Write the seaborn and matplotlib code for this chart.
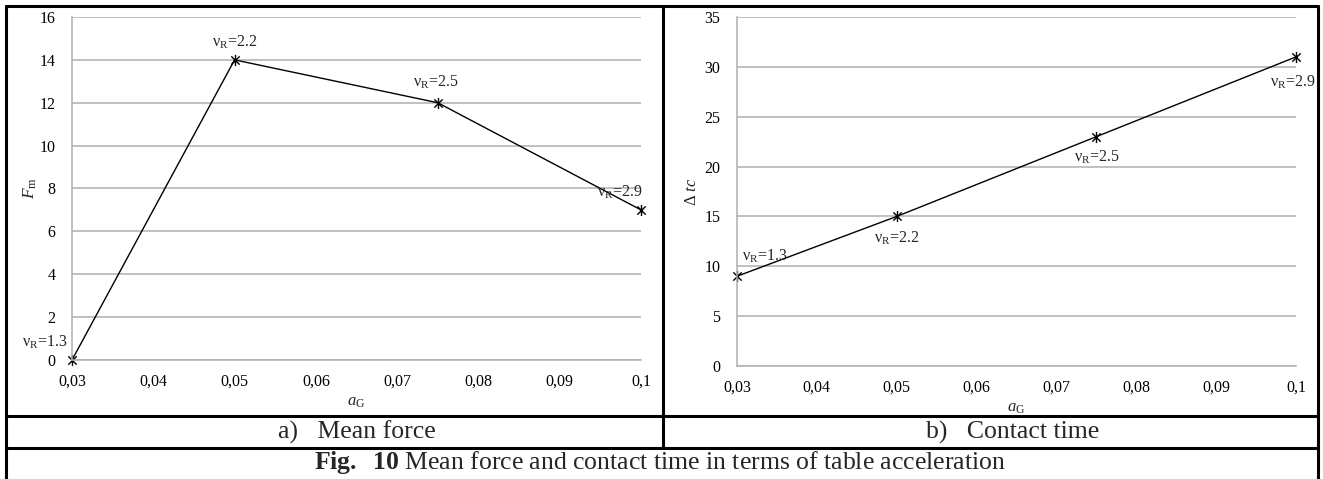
import matplotlib
matplotlib.use("Agg")
import matplotlib.pyplot as plt
import seaborn as sns
import pandas as pd
from matplotlib.path import Path
from matplotlib.lines import Line2D

# ---- data ----
a_G = [0.03, 0.05, 0.075, 0.1]
mean_force = [0, 14, 12, 7]
contact_time = [9, 15, 23, 31]
nu_R = ["1.3", "2.2", "2.5", "2.9"]
x_ticks = [0.03, 0.04, 0.05, 0.06, 0.07, 0.08, 0.09, 0.1]
x_tick_labels = ["0,03", "0,04", "0,05", "0,06", "0,07", "0,08", "0,09", "0,1"]
f_ticks = list(range(0, 17, 2))
t_ticks = list(range(0, 36, 5))

sns.set_theme(style="white")
plt.rcParams["font.family"] = ["Liberation Serif", "DejaVu Serif"]
plt.rcParams["mathtext.fontset"] = "custom"
plt.rcParams["mathtext.rm"] = "Liberation Serif"
plt.rcParams["mathtext.it"] = "Liberation Serif:italic"
plt.rcParams["mathtext.bf"] = "Liberation Serif:bold"

W, H = 1323, 479
fig = plt.figure(figsize=(W / 100, H / 100), dpi=100)
fig.patch.set_facecolor("white")

def px_axes(x0, y0, x1, y1):
    return fig.add_axes([x0 / W, 1 - y1 / H, (x1 - x0) / W, (y1 - y0) / H])

star = Path([(0, -1), (0, 1), (-0.75, -0.75), (0.75, 0.75), (-0.75, 0.75), (0.75, -0.75)],
            [Path.MOVETO, Path.LINETO, Path.MOVETO, Path.LINETO, Path.MOVETO, Path.LINETO])

grid_c = "#AFAFAF"
TICK_FS = 11.5

def style_axes(ax, yticks, ymax):
    ax.set_xlim(0.03, 0.1)
    ax.set_ylim(0, ymax)
    ax.set_xticks(x_ticks)
    ax.set_xticklabels(x_tick_labels)
    ax.set_yticks(yticks)
    ax.yaxis.grid(True, color=grid_c, linewidth=1.1)
    ax.xaxis.grid(False)
    for s in ["top", "right"]:
        ax.spines[s].set_visible(False)
    for s in ["left", "bottom"]:
        ax.spines[s].set_color(grid_c)
        ax.spines[s].set_linewidth(1.1)
    ax.tick_params(axis="both", which="major", direction="out", length=4, width=1,
                   color=grid_c, labelsize=TICK_FS, labelcolor="black")
    ax.tick_params(axis="y", pad=8)
    ax.tick_params(axis="x", pad=6)
    ax.set_facecolor("white")
    ax.set_axisbelow(True)

df = pd.DataFrame({"a_G": a_G, "F": mean_force, "T": contact_time, "nu": nu_R})

# ---- left: mean force ----
ax1 = px_axes(72, 17, 641, 360)
sns.lineplot(data=df, x="a_G", y="F", ax=ax1, color="black", linewidth=1.0,
             marker=star, markersize=8, markeredgewidth=1.0, markeredgecolor="black",
             clip_on=False)
style_axes(ax1, f_ticks, 16)
ax1.set_xlabel("$a_\\mathregular{G}$", fontsize=12, labelpad=3)
ax1.set_ylabel("$F_\\mathregular{m}$", fontsize=12.5, labelpad=0)
offs1 = [(-27, 18), (0, 18), (-2, 20), (-21, 18)]
for x, y, n, o in zip(a_G, mean_force, nu_R, offs1):
    ax1.annotate("ν$_\\mathregular{R}$=" + n, (x, y), xytext=o, textcoords="offset pixels",
                 ha="center", va="center", fontsize=TICK_FS, annotation_clip=False)

# ---- right: contact time ----
ax2 = px_axes(737, 17, 1296, 366)
sns.lineplot(data=df, x="a_G", y="T", ax=ax2, color="black", linewidth=1.0,
             marker=star, markersize=8, markeredgewidth=1.0, markeredgecolor="black",
             clip_on=False)
style_axes(ax2, t_ticks, 35)
ax2.set_xlabel("$a_\\mathregular{G}$", fontsize=12, labelpad=3)
ax2.set_ylabel("Δ $tc$", fontsize=12, labelpad=3)
offs2 = [(28, 20), (0, -22), (0, -21), (-3, -25)]
for x, y, n, o in zip(a_G, contact_time, nu_R, offs2):
    ax2.annotate("ν$_\\mathregular{R}$=" + n, (x, y), xytext=o, textcoords="offset pixels",
                 ha="center", va="center", fontsize=TICK_FS, annotation_clip=False)

# ---- table borders ----
def hline(y, x0, x1, lw=2.2):
    fig.add_artist(Line2D([x0 / W, x1 / W], [1 - y / H, 1 - y / H], color="black", linewidth=lw))

def vline(x, y0, y1, lw=2.2):
    fig.add_artist(Line2D([x / W, x / W], [1 - y0 / H, 1 - y1 / H], color="black", linewidth=lw))

hline(6, 6, 1318)
hline(416, 6, 1318)
hline(448, 6, 1318)
vline(6, 6, 479)
vline(1318, 6, 479)
vline(663, 6, 448)

# ---- captions ----
CAP_FS = 18.5
fig.text(357 / W, 1 - 432 / H, "a)   Mean force", ha="center", va="center", fontsize=CAP_FS)
fig.text(1013 / W, 1 - 432 / H, "b)   Contact time", ha="center", va="center", fontsize=CAP_FS)
fig.text(660 / W, 1 - 463 / H,
         "$\\mathbf{Fig.\\ \\ 10}$ Mean force and contact time in terms of table acceleration",
         ha="center", va="center", fontsize=CAP_FS)

fig.savefig("out.png", dpi=100, facecolor="white")
